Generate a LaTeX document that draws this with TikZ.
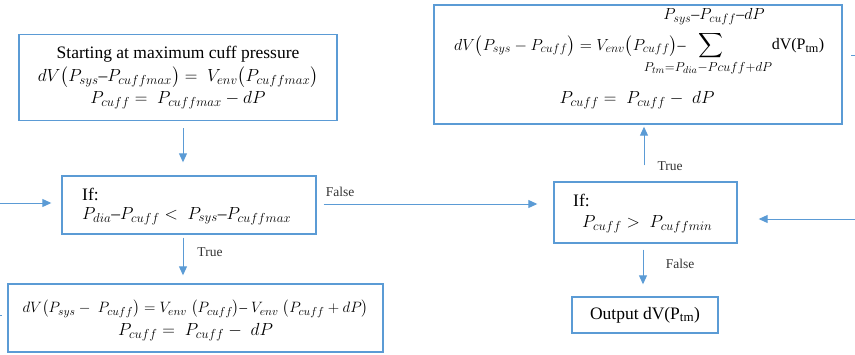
\RequirePackage{fix-cm}
\documentclass[tikz,border=0pt]{standalone}
\usepackage{amsmath}
\usepackage{fontspec}
\setmainfont{Liberation Serif}
\usetikzlibrary{arrows.meta}
\definecolor{bl}{HTML}{5B9BD5}
\definecolor{lblc}{HTML}{333333}
\newcommand{\mdash}{\text{–}}
\newcommand{\lp}{\bigl(}
\newcommand{\rp}{\bigr)}
\DeclareMathSizes{17.5}{17.5}{13}{10}
\DeclareMathSizes{16}{16}{12.2}{9.5}
\DeclareMathSizes{15}{15}{11.5}{9}
\DeclareMathSizes{13}{13}{10}{7.5}
\begin{document}
\begin{tikzpicture}[x=1pt,y=-1pt,
  box/.style={draw=bl, line width=1.4pt, inner sep=0pt},
  arr/.style={draw=bl, line width=1pt, -{Triangle[length=9pt,width=8pt]}},
  ln/.style={draw=bl, line width=1pt},
  lbl/.style={font=\fontsize{13.5}{15}\selectfont, text=lblc, inner sep=0pt},
  big/.style={font=\fontsize{17.5}{23}\selectfont, inner sep=0pt},
  mid/.style={font=\fontsize{15}{17}\selectfont, inner sep=0pt},
  small/.style={font=\fontsize{16}{17}\selectfont, inner sep=0pt}
]
\useasboundingbox (0,0) rectangle (855,354);

% boxes
\node[box, minimum width=318pt, minimum height=86pt] (A) at (178,77.5) {};
\node[box, minimum width=254pt, minimum height=58pt] (B) at (189,205) {};
\node[box, minimum width=375pt, minimum height=68pt] (D) at (195.5,318) {};
\node[box, minimum width=183pt, minimum height=61pt] (C) at (645.5,212.5) {};
\node[box, minimum width=408pt, minimum height=119pt] (E) at (638,64.5) {};
\node[box, big, minimum width=146pt, minimum height=36pt] (F) at (645,315)
  {Output dV(P\textsubscript{tm})};

% contents of A
\node[big] (a1) at (178,54) {Starting at maximum cuff pressure};
\node[big] (a2) at (178,77) {$dV\lp P_{sys}\mdash P_{cuffmax}\rp=\;V_{env}\lp P_{cuffmax}\rp$};
\node[big] (a3) at (178,100) {$P_{cuff}=\;P_{cuffmax}-dP$};

% contents of B
\node[big, anchor=west] (b1) at (82,194) {If:};
\node[big, anchor=west] (b2) at (82,216) {$P_{dia}\mdash P_{cuff}<\;P_{sys}\mdash P_{cuffmax}$};

% contents of D
\node[mid] (d1) at (195.5,309)
  {$dV\lp P_{sys}-\;P_{cuff}\rp=V_{env}\;\lp P_{cuff}\rp\mdash\;V_{env}\;\lp P_{cuff}+dP\rp$};
\node[big] (d2) at (195.5,332) {$P_{cuff}=\;P_{cuff}-\;dP$};

% contents of C
\node[big, anchor=west] (c1) at (573,200) {If:};
\node[big, anchor=west] (c2) at (582,224) {$P_{cuff}>\;P_{cuffmin}$};

% contents of E
\node[small, anchor=west] (e1) at (454,46)
  {$dV\lp P_{sys}-P_{cuff}\rp=V_{env}\lp P_{cuff}\rp\mdash$};
\node[inner sep=0pt, font=\fontsize{19}{20}\selectfont] (e2) at (711,46) {$\displaystyle\sum$};
\node[small] (e3) at (714,17) {$P_{sys}{\mdash}P_{cuff}{\mdash}dP$};
\node[inner sep=0pt, font=\fontsize{13}{14}\selectfont] (e4) at (708,68) {$P_{tm}{=}P_{dia}{-}Pcuff{+}dP$};
\node[inner sep=0pt, font=\fontsize{16}{18}\selectfont] (e5) at (798,46) {dV(P\textsubscript{tm})};
\node[big] (e6) at (637,100) {$P_{cuff}=\;P_{cuff}-\;dP$};

% helper coordinates
\coordinate (x1) at (183,0);
\coordinate (x2) at (644,0);
\coordinate (x3) at (643,0);
\coordinate (yBC) at (0,204);
\coordinate (inB) at (0,203);
\coordinate (inC) at (855,219);
\coordinate (sL) at (0,315);
\coordinate (sR) at (855,55);

% connectors
\draw[arr, shorten <=7pt, shorten >=13pt] (A.south -| x1) -- (B.north -| x1);
\draw[arr, shorten <=3pt, shorten >=8pt] (B.south -| x1) -- (D.north -| x1);
\draw[arr, shorten >=10pt] (inB) -- (B.west |- inB);
\draw[arr, shorten <=7pt, shorten >=16pt] (B.east |- yBC) -- (C.west |- yBC);
\draw[arr, shorten <=16pt, shorten >=2pt] (C.north -| x2) -- (E.south -| x2);
\draw[arr, shorten >=21pt] (inC) -- (C.east |- inC);
\draw[arr, shorten <=6pt, shorten >=12pt] (C.south -| x3) -- (F.north -| x3);
\draw[ln, shorten >=5pt] (sL) -- (D.west |- sL);
\draw[ln, shorten >=8pt] (sR) -- (E.east |- sR);

% labels
\node[lbl] (t1) at (210,252) {True};
\node[lbl] (f1) at (340,192) {False};
\node[lbl] (t2) at (670,166) {True};
\node[lbl] (f2) at (680,264) {False};
\end{tikzpicture}
\end{document}
